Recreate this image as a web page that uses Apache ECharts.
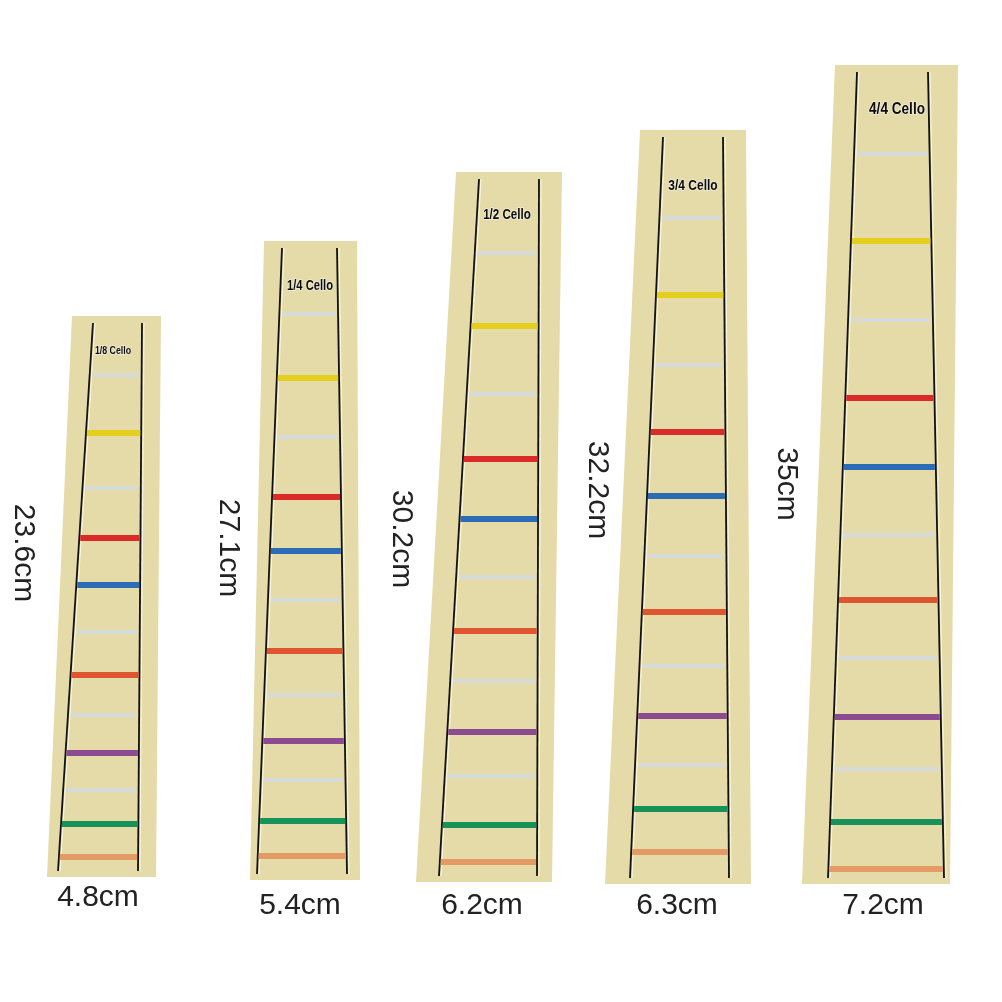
<!DOCTYPE html>
<html>
<head>
<meta charset="utf-8">
<title>Cello fingerboard stickers</title>
<script src="https://cdn.jsdelivr.net/npm/echarts@6/dist/echarts.min.js"></script>
<style>
  html, body { margin: 0; padding: 0; background: #fff; }
  #main { width: 1002px; height: 1002px; }
</style>
</head>
<body>
<div id="main"></div>
<script>
// sticker names, printed sizes
const sizeNames = ['1/8 Cello', '1/4 Cello', '1/2 Cello', '3/4 Cello', '4/4 Cello'];
const lengthLabels = ['23.6cm', '27.1cm', '30.2cm', '32.2cm', '35cm'];
const widthLabels = ['4.8cm', '5.4cm', '6.2cm', '6.3cm', '7.2cm'];

// fret marks, top to bottom
const fretKinds = ['gray', 'yellow', 'gray', 'red', 'blue', 'gray', 'vermilion', 'gray', 'purple', 'gray', 'green', 'orange'];
const frets18 = [375, 433, 488, 538, 585, 632, 675, 715, 753, 790, 824, 857];
const frets14 = [314, 378, 437, 497, 551, 600, 651, 695, 741, 780, 821, 856];
const frets12 = [253, 326, 394, 459, 519, 577, 631, 681, 732, 776, 825, 862];
const frets34 = [218, 295, 365, 432, 496, 556, 612, 666, 716, 765, 809, 852];
const frets44 = [154, 241, 320, 398, 467, 535, 600, 658, 717, 769, 822, 869];
const fretSets = [frets18, frets14, frets12, frets34, frets44];

// layout of each sticker in picture pixels (x: left -> right, y: top -> bottom)
const strips = [
  { top: 316, bottom: 877, bg: [72, 161, 156, 47], left: [93, 58], right: [142, 138], lab: [113, 351, 11], len: [23, 553], wid: [98, 898] },
  { top: 241, bottom: 880, bg: [264, 357, 360, 250], left: [282, 257], right: [337, 347], lab: [310, 286, 14], len: [228, 548], wid: [300, 906] },
  { top: 172, bottom: 882, bg: [456, 562, 552, 416], left: [479, 439], right: [539, 537], lab: [507, 215, 14.5], len: [401, 539], wid: [482, 906] },
  { top: 130, bottom: 884, bg: [640, 746, 751, 605], left: [663, 630], right: [723, 729], lab: [693, 186, 15], len: [597, 490], wid: [677, 906] },
  { top: 65, bottom: 884, bg: [835, 958, 950, 802], left: [857, 828], right: [928, 944], lab: [897, 109, 17], len: [786, 484], wid: [883, 906] }
];

const fretStyle = {
  gray: { color: '#d6dbd9', w: 4 },
  yellow: { color: '#e5cf1e', w: 6 },
  red: { color: '#dc2a29', w: 6 },
  blue: { color: '#2b6cb4', w: 6 },
  vermilion: { color: '#df5530', w: 6 },
  purple: { color: '#8c4b91', w: 6 },
  green: { color: '#17935a', w: 6 },
  orange: { color: '#e49a64', w: 6 }
};

const chart = echarts.init(document.getElementById('main'));

const seriesData = fretSets.map((f, i) => [i].concat(f));

function renderStrip(params, api) {
  const i = api.value(0);
  const s = strips[i];
  const P = (x, y) => api.coord([x, y]);
  const lt = s.top + 7;
  const lb = s.bottom - 6;
  const lerp = (a, b, y) => a + (b - a) * (y - lt) / (lb - lt);
  const children = [];

  children.push({
    type: 'polygon',
    shape: { points: [P(s.bg[0], s.top), P(s.bg[1], s.top), P(s.bg[2], s.bottom), P(s.bg[3], s.bottom)] },
    style: { fill: '#e4dba8' }
  });

  [s.left, s.right].forEach((ln) => {
    const a = P(ln[0], lt);
    const b = P(ln[1], lb);
    children.push({
      type: 'line',
      shape: { x1: a[0] + 2, y1: a[1], x2: b[0] + 2, y2: b[1] },
      style: { stroke: 'rgba(255,255,240,0.8)', lineWidth: 1 }
    });
    children.push({
      type: 'line',
      shape: { x1: a[0], y1: a[1], x2: b[0], y2: b[1] },
      style: { stroke: '#111', lineWidth: 1.8 }
    });
  });

  fretKinds.forEach((kind, k) => {
    const y = api.value(k + 1);
    const st = fretStyle[kind];
    const pad = kind === 'gray' ? 3 : 1;
    const a = P(lerp(s.left[0], s.left[1], y) + pad, y);
    const b = P(lerp(s.right[0], s.right[1], y) - pad, y);
    children.push({
      type: 'line',
      shape: { x1: a[0], y1: a[1], x2: b[0], y2: b[1] },
      style: { stroke: st.color, lineWidth: st.w, lineCap: 'butt' }
    });
  });

  const lp = P(s.lab[0], s.lab[1]);
  children.push({
    type: 'text',
    x: lp[0], y: lp[1], scaleX: 0.8,
    style: {
      text: sizeNames[i], fill: '#0a0a0a', stroke: 'rgba(255,255,255,0.6)', lineWidth: 1.5,
      font: 'bold ' + s.lab[2] + 'px "Liberation Sans", Arial, sans-serif',
      align: 'center', verticalAlign: 'middle'
    }
  });

  const lenP = P(s.len[0], s.len[1]);
  children.push({
    type: 'text',
    x: lenP[0], y: lenP[1], rotation: -Math.PI / 2,
    style: {
      text: lengthLabels[i], fill: '#222',
      font: '30px "Liberation Sans", Arial, sans-serif',
      align: 'center', verticalAlign: 'middle'
    }
  });

  const wP = P(s.wid[0], s.wid[1]);
  children.push({
    type: 'text',
    x: wP[0], y: wP[1],
    style: {
      text: widthLabels[i], fill: '#222',
      font: '30px "Liberation Sans", Arial, sans-serif',
      align: 'center', verticalAlign: 'middle'
    }
  });

  return { type: 'group', children: children };
}

chart.setOption({
  backgroundColor: '#ffffff',
  animation: false,
  grid: { left: 0, right: 0, top: 0, bottom: 0, containLabel: false },
  xAxis: { type: 'value', min: 0, max: 1002, show: false },
  yAxis: { type: 'value', min: 0, max: 1002, inverse: true, show: false },
  series: [{
    type: 'custom',
    renderItem: renderStrip,
    clip: false,
    data: seriesData
  }]
});
</script>
</body>
</html>
